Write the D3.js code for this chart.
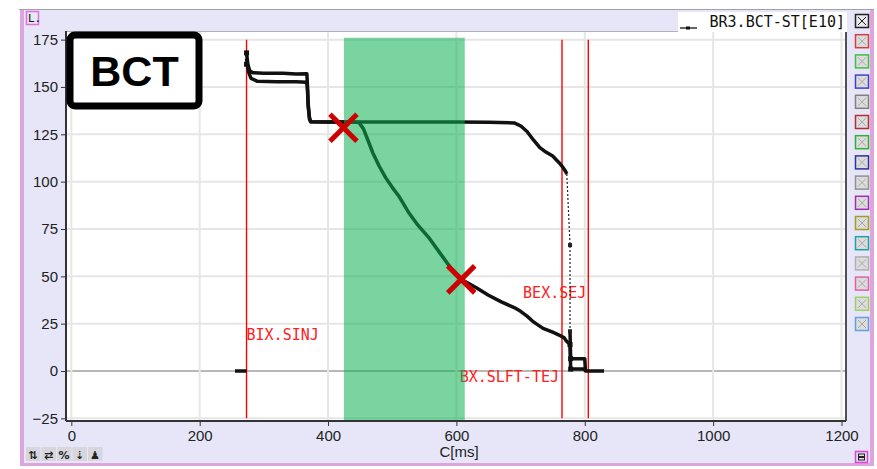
<!DOCTYPE html>
<html>
<head>
<meta charset="utf-8">
<script src="https://cdn.jsdelivr.net/npm/d3@7/dist/d3.min.js"></script>
<style>
  body { margin: 0; background: #fff; }
  svg { display: block; }
  .tick text { font-family: "Liberation Sans", Arial, sans-serif; font-size: 15px; fill: #222; }
  .mono { font-family: "DejaVu Sans Mono", monospace; }
</style>
</head>
<body>
<svg id="chart" width="877" height="469"></svg>
<script>
// --- data (x in ms, y in BCT units) ---
var xTicks = [0, 200, 400, 600, 800, 1000, 1200];
var yTicks = [-25, 0, 25, 50, 75, 100, 125, 150, 175];

var startStub = [[255, 0], [273, 0]];

var upperSeries = [
  [273, 168], [275, 162], [278, 158.5], [283, 157.5], [300, 157.3], [330, 157.2], [350, 156.8], [367, 157],
  [368, 150], [369, 141], [371, 134], [373, 131.6], [400, 131.5], [450, 131.5], [500, 131.5],
  [550, 131.5], [600, 131.5], [650, 131.4], [690, 131], [700, 129.5], [710, 126.5], [720, 122],
  [730, 118], [740, 115.5], [750, 113.5], [760, 110], [766, 107.5], [770, 105.5], [772, 104]
];
var upperDrop = [[772, 104], [777, 66.5], [777, 21]];
var upperTail = [[777, 21], [778, 6.5], [800, 6.5], [801, 0], [830, 0]];

var lowerSeries = [
  [273, 165], [276, 158], [280, 154.5], [290, 153], [320, 152.8], [350, 152.8], [367, 152.5],
  [368, 148], [369, 140], [371, 133], [373, 131.6], [400, 131.5], [440, 131.5], [448, 131.2],
  [455, 128], [462, 122], [470, 115], [480, 108], [490, 102], [500, 97], [511, 92], [525, 84],
  [540, 77], [558, 70], [575, 62], [590, 55], [607, 48.4], [620, 46], [631, 44], [650, 40],
  [670, 36.5], [690, 33.5], [700, 31.5], [710, 29], [718, 26.5], [724, 25], [735, 22.5],
  [750, 20.5], [760, 19], [768, 17.5], [771, 16], [777, 14], [778, 1], [800, 1], [801, 0]
];

var markerLines = [273, 764.5, 805.5];
var markerLabels = [
  { text: "BIX.SINJ", x: 273, y: 16.4, anchor: "start", dx: 0 },
  { text: "BEX.SEJ", x: 805.5, y: 38.5, anchor: "end", dx: -2 },
  { text: "BX.SLFT-TEJ", x: 764.5, y: -5.8, anchor: "end", dx: -3 }
];
var band = [424.7, 613];
var crosses = [[424, 128.5], [607.5, 48.4]];

var legendColors = ["#d04040", "#40c040", "#4040d0", "#808080", "#b03030", "#30b030", "#3030a0",
  "#909090", "#a030b0", "#a0a020", "#20a0a0", "#b0b0b0", "#e060a0", "#a0d060", "#60a0e0"];

// --- drawing ---
var svg = d3.select('#chart');
var W = 877, H = 469;
var plot = { left: 66, right: 846, top: 31, bottom: 421 };

var x = d3.scaleLinear().domain([-8.3, 1207]).range([66, 846]);
var y = d3.scaleLinear().domain([-26.4, 178.5]).range([421, 33]);

// outer frame
svg.append('rect').attr('x', 0).attr('y', 0).attr('width', W).attr('height', H).attr('fill', '#fff');
svg.append('rect').attr('x', 20).attr('y', 9).attr('width', 854).attr('height', 457).attr('fill', '#e6e6f8');
svg.append('line').attr('x1', 19).attr('x2', 874).attr('y1', 9.5).attr('y2', 9.5).attr('stroke', '#a0a0a8');
svg.append('rect').attr('x', 20).attr('y', 10).attr('width', 4).attr('height', 456).attr('fill', '#dca6dc');
svg.append('rect').attr('x', 870).attr('y', 10).attr('width', 4).attr('height', 456).attr('fill', '#dca6dc');
svg.append('rect').attr('x', 20).attr('y', 463).attr('width', 854).attr('height', 3).attr('fill', '#dca6dc');

// plot background
svg.append('rect').attr('x', plot.left).attr('y', plot.top)
  .attr('width', plot.right - plot.left).attr('height', plot.bottom - plot.top).attr('fill', '#fff');

// grid
var grid = svg.append('g');
grid.selectAll('line.gy').data(yTicks).enter().append('line')
  .attr('x1', plot.left).attr('x2', plot.right)
  .attr('y1', function(d) { return y(d); }).attr('y2', function(d) { return y(d); })
  .attr('stroke', function(d) { return d === 0 ? '#a0a0a0' : '#e6e6e6'; })
  .attr('stroke-width', function(d) { return d === 0 ? 1.5 : 2; });
grid.selectAll('line.gx').data(xTicks).enter().append('line')
  .attr('y1', plot.top).attr('y2', plot.bottom)
  .attr('x1', function(d) { return x(d); }).attr('x2', function(d) { return x(d); })
  .attr('stroke', '#e6e6e6').attr('stroke-width', 2);

// marker lines + labels (under the band, the band is translucent on top)
svg.selectAll('line.mk').data(markerLines).enter().append('line')
  .attr('x1', function(d) { return x(d); }).attr('x2', function(d) { return x(d); })
  .attr('y1', y(175)).attr('y2', y(-25))
  .attr('stroke', '#ff0000').attr('stroke-width', 1.4);
svg.selectAll('text.mkl').data(markerLabels).enter().append('text')
  .attr('class', 'mono')
  .attr('x', function(d) { return x(d.x) + d.dx; })
  .attr('y', function(d) { return y(d.y); })
  .attr('text-anchor', function(d) { return d.anchor; })
  .attr('font-size', 15).attr('fill', '#ff2020')
  .text(function(d) { return d.text; });

// series
var line = d3.line().x(function(d) { return x(d[0]); }).y(function(d) { return y(d[1]); });
var curves = svg.append('g');
[startStub, upperSeries, upperTail, lowerSeries].forEach(function(s) {
  curves.append('path').datum(s).attr('d', line)
    .attr('fill', 'none').attr('stroke', '#111').attr('stroke-width', 3.5)
    .attr('stroke-linejoin', 'round');
});
curves.append('path').datum(upperDrop).attr('d', line)
  .attr('fill', 'none').attr('stroke', '#222').attr('stroke-width', 1.2)
  .attr('stroke-dasharray', '2,2');
curves.selectAll('rect.pt').data(upperDrop.slice(1)).enter().append('rect')
  .attr('x', function(d) { return x(d[0]) - 2; }).attr('y', function(d) { return y(d[1]) - 2; })
  .attr('width', 4).attr('height', 4).attr('fill', '#222');
curves.selectAll('rect.pt2').data([[273, 168], [273, 162], [777, 14], [778, 6.5], [778, 1]]).enter().append('rect')
  .attr('x', function(d) { return x(d[0]) - 2.5; }).attr('y', function(d) { return y(d[1]) - 2.5; })
  .attr('width', 5).attr('height', 5).attr('fill', '#111');

// highlight band
svg.append('rect')
  .attr('x', x(band[0])).attr('width', x(band[1]) - x(band[0]))
  .attr('y', y(176)).attr('height', plot.bottom - y(176))
  .attr('fill', 'rgb(13,177,82)').attr('fill-opacity', 0.55);

// crosses
var cross = svg.append('g');
crosses.forEach(function(c) {
  var cx = x(c[0]), cy = y(c[1]), r = 13.5;
  cross.append('line').attr('x1', cx - r).attr('y1', cy - r).attr('x2', cx + r).attr('y2', cy + r)
    .attr('stroke', '#cc0000').attr('stroke-width', 5);
  cross.append('line').attr('x1', cx - r).attr('y1', cy + r).attr('x2', cx + r).attr('y2', cy - r)
    .attr('stroke', '#cc0000').attr('stroke-width', 5);
});

// plot border
svg.append('line').attr('x1', plot.left).attr('x2', plot.right).attr('y1', plot.top + 0.5).attr('y2', plot.top + 0.5)
  .attr('stroke', '#b0b0b8').attr('stroke-width', 1);
svg.append('line').attr('x1', plot.right).attr('x2', plot.right).attr('y1', plot.top).attr('y2', plot.bottom)
  .attr('stroke', '#505050').attr('stroke-width', 2);

// axes
var yAxis = svg.append('g').attr('transform', 'translate(' + plot.left + ',0)')
  .call(d3.axisLeft(y).tickValues(yTicks).tickFormat(d3.format('d')).tickSize(5).tickPadding(3));
var xAxis = svg.append('g').attr('transform', 'translate(0,' + plot.bottom + ')')
  .call(d3.axisBottom(x).tickValues(xTicks).tickFormat(d3.format('d')).tickSize(5).tickPadding(4));
[xAxis, yAxis].forEach(function(a) {
  a.select('.domain').attr('stroke', '#333').attr('stroke-width', 2);
  a.selectAll('.tick line').attr('stroke', '#333');
});
yAxis.select('.domain').attr('d', 'M0,' + plot.top + 'V' + plot.bottom);
xAxis.select('.domain').attr('d', 'M' + plot.left + ',0H' + plot.right);

svg.append('text').attr('x', 459).attr('y', 457).attr('text-anchor', 'middle')
  .attr('font-family', 'Liberation Sans, Arial, sans-serif').attr('font-size', 15).attr('fill', '#222')
  .text('C[ms]');

// BCT badge
svg.append('rect').attr('x', 70).attr('y', 35).attr('width', 129).attr('height', 71).attr('rx', 5)
  .attr('fill', '#fff').attr('stroke', '#000').attr('stroke-width', 7);
svg.append('text').attr('x', 134.5).attr('y', 86).attr('text-anchor', 'middle')
  .attr('font-family', 'Liberation Sans, Arial, sans-serif').attr('font-weight', 'bold')
  .attr('font-size', 43).attr('fill', '#000').text('BCT');

// legend entry
svg.append('rect').attr('x', 678).attr('y', 12).attr('width', 169).attr('height', 20).attr('fill', '#fff');
svg.append('line').attr('x1', 680).attr('x2', 697).attr('y1', 28).attr('y2', 28).attr('stroke', '#111').attr('stroke-width', 1.3);
svg.append('rect').attr('x', 686).attr('y', 26.5).attr('width', 4).attr('height', 3).attr('fill', '#111');
svg.append('text').attr('class', 'mono').attr('x', 845).attr('y', 27).attr('text-anchor', 'end')
  .attr('font-size', 15).attr('fill', '#111').text('BR3.BCT-ST[E10]');

// channel toggle boxes
function toggleBox(g, bx, by, color, main) {
  g.append('rect').attr('x', bx + 0.5).attr('y', by + 0.5).attr('width', 13).attr('height', 13)
    .attr('fill', main ? '#e8e8ee' : '#dcdcdc').attr('stroke', color).attr('stroke-width', 1.5);
  var xc = main ? '#222' : '#a8a8a8';
  g.append('line').attr('x1', bx + 3).attr('y1', by + 3).attr('x2', bx + 11).attr('y2', by + 11).attr('stroke', xc);
  g.append('line').attr('x1', bx + 3).attr('y1', by + 11).attr('x2', bx + 11).attr('y2', by + 3).attr('stroke', xc);
}
var boxes = svg.append('g');
toggleBox(boxes, 855, 14, '#222', true);
legendColors.forEach(function(c, i) { toggleBox(boxes, 855, 34.2 + 20.2 * i, c, false); });

// "L." tag
svg.append('rect').attr('x', 26.5).attr('y', 11.5).attr('width', 12).attr('height', 13)
  .attr('fill', '#e8e8f0').attr('stroke', '#e070e0').attr('stroke-width', 1.5);
svg.append('text').attr('class', 'mono').attr('x', 28).attr('y', 22).attr('font-size', 11).attr('fill', '#111').text('L.');

// bottom-left tool icons
var tools = ['⇅', '⇄', '%', '⇣', '♟'];
tools.forEach(function(t, i) {
  svg.append('rect').attr('x', 26 + i * 15.5).attr('y', 447).attr('width', 14.5).attr('height', 14).attr('fill', '#d6d6dc');
  svg.append('text').attr('x', 33 + i * 15.5).attr('y', 459).attr('text-anchor', 'middle')
    .attr('font-family', 'DejaVu Sans, sans-serif').attr('font-size', 11).attr('font-weight', 'bold')
    .attr('fill', '#222').text(t);
});

// bottom-right icon
svg.append('rect').attr('x', 855.5).attr('y', 451.5).attr('width', 12).attr('height', 11)
  .attr('fill', '#e0e0e8').attr('stroke', '#e040e0').attr('stroke-width', 1.5);
svg.append('rect').attr('x', 858.5).attr('y', 454).attr('width', 6).attr('height', 2.5).attr('fill', 'none').attr('stroke', '#222');
svg.append('rect').attr('x', 858.5).attr('y', 457.5).attr('width', 6).attr('height', 2.5).attr('fill', 'none').attr('stroke', '#222');
</script>
</body>
</html>
